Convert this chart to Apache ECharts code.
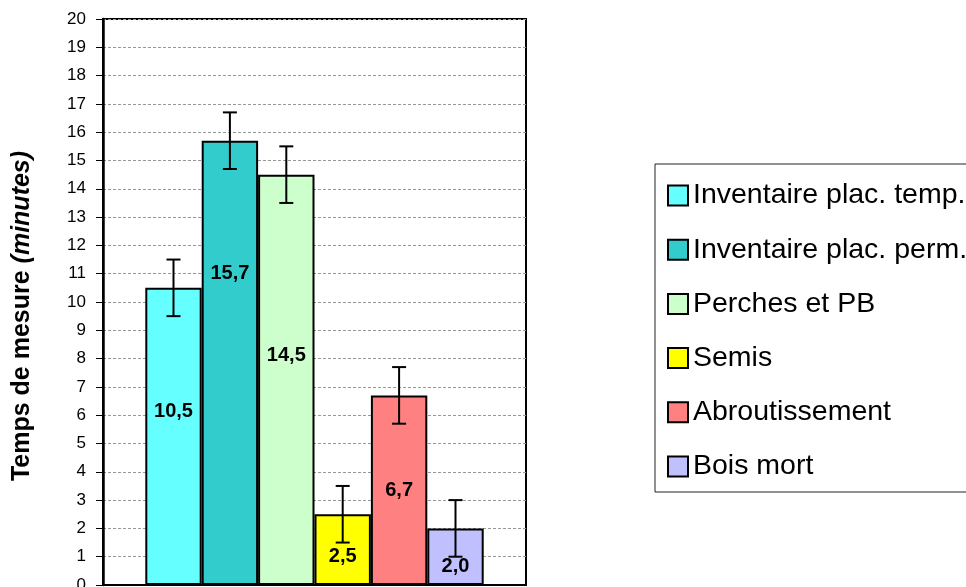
<!DOCTYPE html>
<html>
<head>
<meta charset="utf-8">
<script src="https://cdn.jsdelivr.net/npm/echarts@6/dist/echarts.min.js"></script>
<style>
html,body{margin:0;padding:0;background:#fff;}
#chart{width:966px;height:587px;}
</style>
</head>
<body>
<div id="chart"></div>
<script>
const categories = [''];
const seriesNames = ['Inventaire plac. temp.', 'Inventaire plac. perm.', 'Perches et PB', 'Semis', 'Abroutissement', 'Bois mort'];
const values = [10.5, 15.7, 14.5, 2.5, 6.7, 2.0];
const errors = [1, 1, 1, 1, 1, 1];
const yTicks = { min: 0, max: 20, interval: 1 };

const colors = ['#66FFFF', '#33CCCC', '#CCFFCC', '#FFFF00', '#FF8080', '#C0C0FF'];
const labelY = ['41.5%', '30%', '44%', '60%', '50%', '68%'];
const FONT = 'Liberation Sans, Arial, sans-serif';

const chart = echarts.init(document.getElementById('chart'), null, { renderer: 'canvas' });

const barSeries = seriesNames.map((name, i) => ({
  name: name,
  type: 'bar',
  data: [values[i]],
  barGap: '0%',
  barCategoryGap: '20%',
  itemStyle: { color: colors[i], borderColor: '#000', borderWidth: 2 },
  label: {
    show: true,
    position: ['50%', labelY[i]],
    align: 'center',
    verticalAlign: 'middle',
    fontFamily: FONT,
    fontSize: 20,
    fontWeight: 'bold',
    color: '#000',
    formatter: p => p.value.toFixed(1).replace('.', ',')
  },
  emphasis: { disabled: true },
  z: 2
}));

const errData = values.map((v, i) => [0, v, errors[i], i]);

const errSeries = {
  type: 'custom',
  name: 'err',
  data: errData,
  encode: { x: 0, y: 1 },
  z: 10,
  silent: true,
  renderItem: function (params, api) {
    const n = seriesNames.length;
    const v = api.value(1), e = api.value(2), idx = api.value(3);
    const band = api.size([1, 0])[0];
    const barW = band * 0.8 / n;
    const c = api.coord([0, v]);
    const x = c[0] - band * 0.4 + (idx + 0.5) * barW;
    const yTop = api.coord([0, v + e])[1];
    const yBot = api.coord([0, v - e])[1];
    const cap = 7;
    const st = { stroke: '#000', lineWidth: 2 };
    return {
      type: 'group',
      children: [
        { type: 'line', shape: { x1: x, y1: yTop, x2: x, y2: yBot }, style: st },
        { type: 'line', shape: { x1: x - cap, y1: yTop, x2: x + cap, y2: yTop }, style: st },
        { type: 'line', shape: { x1: x - cap, y1: yBot, x2: x + cap, y2: yBot }, style: st }
      ]
    };
  }
};

const option = {
  animation: false,
  backgroundColor: '#fff',
  grid: {
    left: 103, top: 19, right: 440, bottom: 2,
    outerBoundsMode: 'none',
    containLabel: false,
    show: true, borderColor: '#000', borderWidth: 2, backgroundColor: 'transparent'
  },
  xAxis: {
    type: 'category',
    data: categories,
    axisLine: { show: true, lineStyle: { color: '#000', width: 2 } },
    axisTick: { show: false },
    axisLabel: { show: false },
    splitLine: { show: false }
  },
  yAxis: {
    type: 'value',
    min: yTicks.min, max: yTicks.max, interval: yTicks.interval,
    axisLine: { show: true, lineStyle: { color: '#000', width: 2.5 } },
    axisTick: { show: true, length: 7, lineStyle: { color: '#000', width: 1 } },
    axisLabel: { fontFamily: FONT, fontSize: 17, color: '#000', margin: 17 },
    splitLine: { show: true, lineStyle: { color: '#999', type: [3, 2], width: 1 } }
  },
  legend: {
    orient: 'vertical',
    left: 667,
    top: 181,
    padding: 0,
    itemWidth: 20,
    itemHeight: 20,
    itemGap: 25.2,
    icon: 'rect',
    data: seriesNames,
    selectedMode: false,
    textStyle: { fontFamily: FONT, fontSize: 28.5, lineHeight: 27, color: '#000' }
  },
  graphic: [
    {
      type: 'rect',
      shape: { x: 655, y: 164, width: 340, height: 328 },
      style: { fill: 'none', stroke: '#222', lineWidth: 1 },
      z: -1
    },
    {
      type: 'text',
      x: 22, y: 316,
      rotation: Math.PI / 2,
      style: {
        text: '{b|Temps de mesure }{i|(minutes)}',
        align: 'center',
        verticalAlign: 'middle',
        rich: {
          b: { fontFamily: FONT, fontSize: 25, fontWeight: 'bold', fill: '#000' },
          i: { fontFamily: FONT, fontSize: 25, fontWeight: 'bold', fontStyle: 'italic', fill: '#000' }
        }
      }
    }
  ],
  series: barSeries.concat([errSeries])
};

chart.setOption(option);
</script>
</body>
</html>
